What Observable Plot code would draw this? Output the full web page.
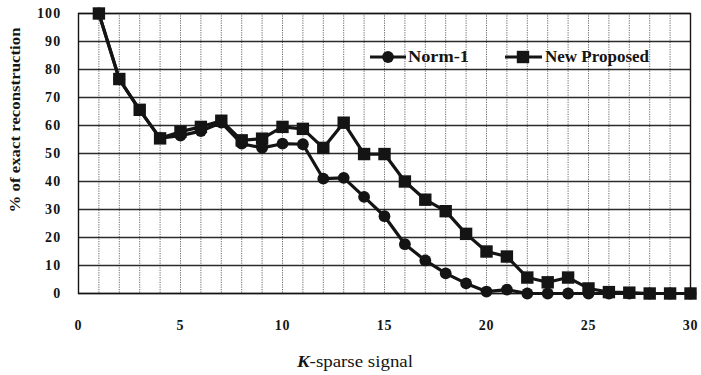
<!DOCTYPE html>
<html><head><meta charset="utf-8">
<script src="https://cdn.jsdelivr.net/npm/d3@7"></script>
<script src="https://cdn.jsdelivr.net/npm/@observablehq/plot@0.6"></script>
<style>body{margin:0;background:#fff}</style>
</head><body><div id="chart"></div>
<script>
const kValues = [1,2,3,4,5,6,7,8,9,10,11,12,13,14,15,16,17,18,19,20,21,22,23,24,25,26,27,28,29,30];
const norm1 = [100,76.5,65.5,55.5,56.4,58,61,53.5,52,53.5,53.3,41,41.3,34.5,27.6,17.6,11.8,7.2,3.6,0.7,1.4,0,0,0,0,0,0,0,0,0];
const proposed = [100,76.6,65.6,55.4,57.8,59.5,61.7,54.7,55.3,59.5,58.8,52,61,49.8,49.8,40,33.5,29.4,21.3,15,13.2,5.7,4,5.7,1.8,0.5,0.3,0,0,0];
const seriesNames = ["Norm-1", "New Proposed"];
const xTicks = [0,5,10,15,20,25,30];
const yTicks = [0,10,20,30,40,50,60,70,80,90,100];
const xGrid = [1,2,3,4,5,6,7,8,9,10,11,12,13,14,15,16,17,18,19,20,21,22,23,24,25,26,27,28,29];
const yTitle = "% of exact reconstruction";
const xTitleItalic = "K";
const xTitleRest = "-sparse signal";

const normData = kValues.map((k, i) => ({k, v: norm1[i]}));
const propData = kValues.map((k, i) => ({k, v: proposed[i]}));
const ink = "#141414";

const plot = Plot.plot({
  width: 701,
  height: 375,
  marginLeft: 78,
  marginRight: 11,
  marginTop: 13,
  marginBottom: 82,
  style: {fontFamily: "'Liberation Serif', 'DejaVu Serif', serif", fontSize: "14px", fontWeight: "bold", color: ink, background: "#fff"},
  x: {domain: [0, 30]},
  y: {domain: [0, 100]},
  marks: [
    Plot.gridX({ticks: xGrid, stroke: "#444", strokeOpacity: 0.8, strokeWidth: 1, strokeDasharray: "1.2,1.2"}),
    Plot.gridY({ticks: yTicks, stroke: ink, strokeOpacity: 0.9, strokeWidth: 1.5}),
    Plot.frame({stroke: ink, strokeWidth: 1.4}),
    Plot.axisX({ticks: xTicks, tickSize: 0, tickPadding: 27, label: null, fontSize: 14, fontWeight: "bold"}),
    Plot.axisY({ticks: yTicks, tickSize: 0, tickPadding: 17, label: null, fontSize: 14, fontWeight: "bold"}),
    Plot.line(normData, {x: "k", y: "v", stroke: ink, strokeWidth: 3.2}),
    Plot.dot(normData, {x: "k", y: "v", r: 5.9, fill: ink, symbol: "circle"}),
    Plot.line(propData, {x: "k", y: "v", stroke: ink, strokeWidth: 3.2}),
    Plot.dot(propData, {x: "k", y: "v", r: 7, fill: ink, symbol: "square"})
  ]
});

const svg = d3.select(plot);
svg.selectAll("g[aria-label='y-axis tick label'] text").style("letter-spacing", "1.2px");
svg.selectAll("g[aria-label='x-axis tick label'] text").style("letter-spacing", "0.8px");

// y title
svg.append("text")
  .attr("transform", "translate(20,120) rotate(-90)")
  .attr("text-anchor", "middle")
  .attr("font-size", 15)
  .attr("font-weight", "bold")
  .attr("fill", ink)
  .attr("textLength", 185)
  .attr("lengthAdjust", "spacingAndGlyphs")
  .text(yTitle);

// x title
const xt = svg.append("text")
  .attr("x", 297).attr("y", 367)
  .attr("text-anchor", "start")
  .attr("font-size", 16)
  .attr("fill", ink)
  .attr("textLength", 116)
  .attr("lengthAdjust", "spacingAndGlyphs");
xt.append("tspan").attr("font-style", "italic").attr("font-weight", "bold").text(xTitleItalic);
xt.append("tspan").attr("font-weight", "normal").text(xTitleRest);

// legend
const lg = svg.append("g").attr("fill", ink).attr("stroke", ink);
const legendItems = [
  {name: seriesNames[0], x0: 370, x1: 406, mx: 388, tx: 408, tl: 61, sym: "circle"},
  {name: seriesNames[1], x0: 505, x1: 542, mx: 523, tx: 545, tl: 104, sym: "square"}
];
const ly = 57;
for (const it of legendItems) {
  lg.append("line").attr("x1", it.x0).attr("x2", it.x1).attr("y1", ly).attr("y2", ly).attr("stroke-width", 3);
  if (it.sym === "circle") lg.append("circle").attr("cx", it.mx).attr("cy", ly).attr("r", 5.9).attr("stroke", "none");
  else lg.append("rect").attr("x", it.mx - 6.2).attr("y", ly - 6.2).attr("width", 12.4).attr("height", 12.4).attr("stroke", "none");
  lg.append("text").attr("x", it.tx).attr("y", ly + 5).attr("stroke", "none")
    .attr("text-anchor", "start")
    .attr("font-size", 16).attr("font-weight", "bold")
    .attr("textLength", it.tl).attr("lengthAdjust", "spacingAndGlyphs")
    .text(it.name);
}

document.getElementById("chart").appendChild(plot);
</script>
</body></html>
